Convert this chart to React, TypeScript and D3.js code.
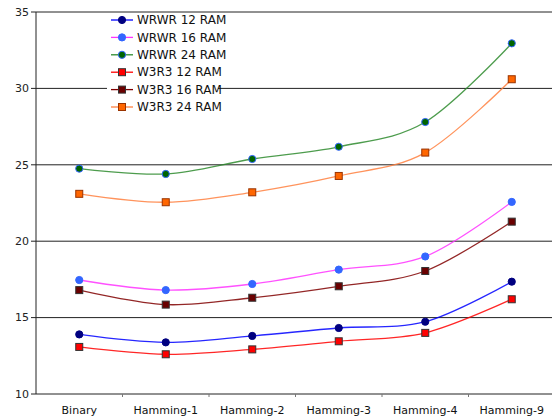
import React from "react";
import * as d3 from "d3";

const categories = ["Binary", "Hamming-1", "Hamming-2", "Hamming-3", "Hamming-4", "Hamming-9"];
const yTicks = [10, 15, 20, 25, 30, 35];

const wrwr12 = [13.9, 13.38, 13.8, 14.32, 14.73, 17.35];
const wrwr16 = [17.46, 16.8, 17.2, 18.14, 19.0, 22.57];
const wrwr24 = [24.75, 24.4, 25.38, 26.18, 27.8, 32.95];
const w3r312 = [13.08, 12.6, 12.92, 13.45, 14.0, 16.2];
const w3r316 = [16.8, 15.85, 16.3, 17.05, 18.05, 21.28];
const w3r324 = [23.1, 22.55, 23.2, 24.27, 25.8, 30.6];

const seriesNames = ["WRWR 12 RAM", "WRWR 16 RAM", "WRWR 24 RAM", "W3R3 12 RAM", "W3R3 16 RAM", "W3R3 24 RAM"];
const seriesValues = [wrwr12, wrwr16, wrwr24, w3r312, w3r316, w3r324];

const styles = [
  { line: "#0000ff", fill: "#000080", stroke: "#000080", shape: "circle" },
  { line: "#ff33ff", fill: "#3366ff", stroke: "#3366ff", shape: "circle" },
  { line: "#2e8b2e", fill: "#006400", stroke: "#3366ff", shape: "circle" },
  { line: "#ff0000", fill: "#ff0000", stroke: "#333333", shape: "square" },
  { line: "#800000", fill: "#6b0000", stroke: "#333333", shape: "square" },
  { line: "#ff8040", fill: "#ff6600", stroke: "#993300", shape: "square" },
];

const W = 552;
const H = 416;
const left = 36;
const right = 555;
const top = 12;
const bottom = 394;

function Marker({ x, y, s }: { x: number; y: number; s: any }) {
  if (s.shape === "circle") {
    return <circle cx={x} cy={y} r={3.6} fill={s.fill} stroke={s.stroke} strokeWidth={1} />;
  }
  return <rect x={x - 3.5} y={y - 3.5} width={7} height={7} fill={s.fill} stroke={s.stroke} strokeWidth={1} />;
}

export default function App() {
  const x = d3.scaleBand<string>().domain(categories).range([left, right]);
  const y = d3.scaleLinear().domain([10, 35]).range([bottom, top]);
  const line = d3
    .line<number>()
    .x((_, i) => (x(categories[i]) as number) + x.bandwidth() / 2)
    .y((d) => y(d))
    .curve(d3.curveCardinal.tension(0));

  const legendX = 107;
  const legendY0 = 20;
  const legendStep = 17.4;

  return (
    <svg width={W} height={H} style={{ position: "absolute", left: 0, top: 0, background: "#fff" }}>
      <rect width={W} height={H} fill="#fff" />
      {yTicks.map((t) => (
        <g key={t}>
          {t !== 10 && <line x1={left} x2={W} y1={y(t)} y2={y(t)} stroke="#222" strokeWidth={1} />}
          <line x1={left - 5} x2={left} y1={y(t)} y2={y(t)} stroke="#222" />
          <text x={left - 7} y={y(t)} dy="0.35em" textAnchor="end" fontFamily="DejaVu Sans" fontSize={11} fill="#222">
            {t}
          </text>
        </g>
      ))}
      <line x1={left} x2={left} y1={top} y2={bottom} stroke="#222" />
      <line x1={left} x2={W} y1={bottom} y2={bottom} stroke="#222" />
      {categories.map((c, i) => (
        <g key={c}>
          {i > 0 && <line x1={x(c)} x2={x(c)} y1={bottom} y2={bottom + 3} stroke="#777" />}
          <text
            x={(x(c) as number) + x.bandwidth() / 2}
            y={410}
            dy="0.35em"
            textAnchor="middle"
            fontFamily="DejaVu Sans"
            fontSize={11}
            fill="#111"
          >
            {c}
          </text>
        </g>
      ))}
      {seriesValues.map((vals, si) => (
        <g key={si}>
          <path d={line(vals) || ""} fill="none" stroke={styles[si].line} strokeWidth={1.3} strokeOpacity={0.85} />
          {vals.map((v, i) => (
            <Marker key={i} x={(x(categories[i]) as number) + x.bandwidth() / 2} y={y(v)} s={styles[si]} />
          ))}
        </g>
      ))}
      <rect x={legendX} y={13} width={111} height={101} fill="#fff" />
      {seriesNames.map((n, i) => {
        const ly = legendY0 + i * legendStep;
        return (
          <g key={n}>
            <line x1={111} x2={133} y1={ly} y2={ly} stroke={styles[i].line} strokeWidth={1.3} />
            <Marker x={122} y={ly} s={styles[i]} />
            <text x={137} y={ly} dy="0.35em" fontFamily="DejaVu Sans" fontSize={12} fill="#111">
              {n}
            </text>
          </g>
        );
      })}
    </svg>
  );
}
